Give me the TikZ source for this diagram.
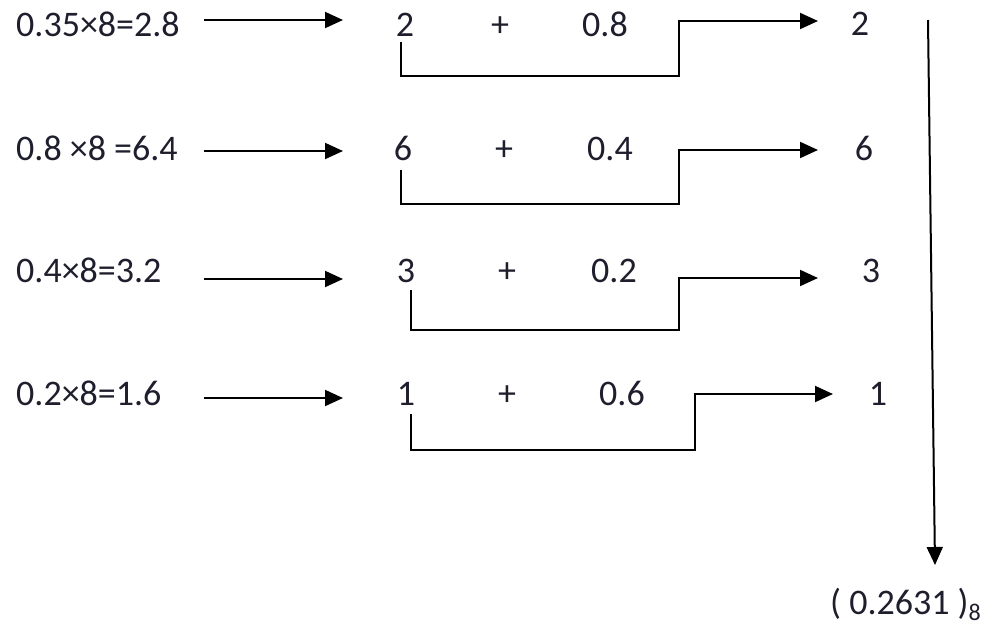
\documentclass[tikz,border=0pt]{standalone}
\usepackage{fontspec}
\setmainfont{Carlito}
\usetikzlibrary{arrows.meta}
\definecolor{txt}{RGB}{30,30,45}
\begin{document}
\begin{tikzpicture}[x=1pt,y=-1pt,
  lbl/.style={font=\fontsize{36}{40}\selectfont, text=txt, inner sep=0pt, anchor=base west},
  num/.style={font=\fontsize{36}{40}\selectfont, text=txt, inner sep=0pt, anchor=base},
  conn/.style={line width=2pt, line join=miter},
  arr/.style={conn, -{Triangle[length=18pt,width=16pt]}}]
\useasboundingbox (0,0) rectangle (986,625);

% left labels
\node[lbl] (l1) at (16,36) {0.35×8=2.8};
\node[lbl] (l2) at (16,160) {0.8 ×8 =6.4};
\node[lbl] (l3) at (16,282) {0.4×8=3.2};
\node[lbl] (l4) at (16,405) {0.2×8=1.6};

% middle
\node[num] (m1) at (405,36) {2};
\node[num] (p1) at (500,36) {+};
\node[num] (f1) at (605,36) {0.8};
\node[num] (m2) at (403,160) {6};
\node[num] (p2) at (504,160) {+};
\node[num] (f2) at (610,160) {0.4};
\node[num] (m3) at (406,282) {3};
\node[num] (p3) at (507,282) {+};
\node[num] (f3) at (614,282) {0.2};
\node[num] (m4) at (406,405) {1};
\node[num] (p4) at (507,405) {+};
\node[num] (f4) at (622,405) {0.6};

% right digits
\node[num] (r1) at (860,35) {2};
\node[num] (r2) at (864,160) {6};
\node[num] (r3) at (871,282) {3};
\node[num] (r4) at (878,405) {1};

% result
\node[lbl] (res) at (830,614) {( 0.2631 )\raisebox{-6pt}{\fontsize{24}{24}\selectfont 8}};

% connector end points
\coordinate (a1s) at (204,20);  \coordinate (a1e) at (343,20);
\coordinate (a2s) at (204,151); \coordinate (a2e) at (343,151);
\coordinate (a3s) at (204,279); \coordinate (a3e) at (343,279);
\coordinate (a4s) at (204,398); \coordinate (a4e) at (343,398);

\coordinate (b1s) at (401,42);  \coordinate (b1e) at (818,21);
\coordinate (b2s) at (401,170); \coordinate (b2e) at (818,150);
\coordinate (b3s) at (411,290); \coordinate (b3e) at (818,278);
\coordinate (b4s) at (411,414); \coordinate (b4e) at (833,394);

\coordinate (vs) at (928,20); \coordinate (ve) at (935,565);

% left arrows
\draw[arr] (a1s) -- (a1e);
\draw[arr] (a2s) -- (a2e);
\draw[arr] (a3s) -- (a3e);
\draw[arr] (a4s) -- (a4e);

% brackets
\draw[arr] (b1s) -- (401,76) -- (679,76) -- (679,21) -- (b1e);
\draw[arr] (b2s) -- (401,204) -- (679,204) -- (679,150) -- (b2e);
\draw[arr] (b3s) -- (411,330) -- (679,330) -- (679,278) -- (b3e);
\draw[arr] (b4s) -- (411,450) -- (695,450) -- (695,394) -- (b4e);

% collecting arrow
\draw[arr] (vs) -- (ve);
\end{tikzpicture}
\end{document}
